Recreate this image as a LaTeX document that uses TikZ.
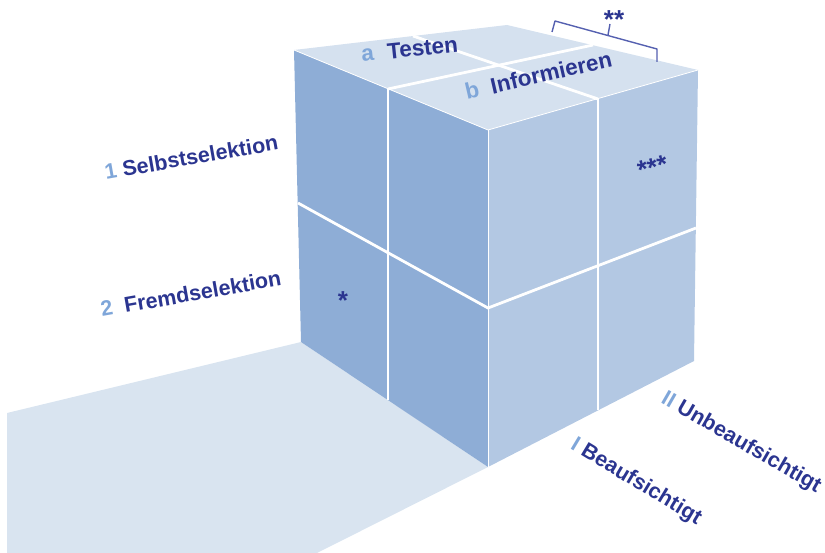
\documentclass[tikz,border=0pt]{standalone}
\usepackage{fontspec}
\setmainfont{Liberation Sans}
\definecolor{leftface}{HTML}{8EADD6}
\definecolor{rightface}{HTML}{B3C8E3}
\definecolor{topface}{HTML}{D5E1EF}
\definecolor{floorc}{HTML}{D9E4F0}
\definecolor{navy}{HTML}{2B3590}
\definecolor{lightnum}{HTML}{7FA6D9}
\definecolor{bracketc}{HTML}{5560B0}
\tikzset{
  face/.style={draw=none},
  divider/.style={draw=white, line width=2.8pt},
  edgeline/.style={draw=white, line width=0.8pt},
  lbl/.style={text=navy, font=\fontsize{21.5}{24}\selectfont\bfseries, inner sep=0pt},
  toplbl/.style={text=navy, font=\fontsize{22.5}{24}\selectfont\bfseries, inner sep=0pt},
  star/.style={text=navy, font=\fontsize{26}{28}\selectfont\bfseries, inner sep=0pt},
}
\begin{document}
\begin{tikzpicture}[x=1pt, y=-1pt]
\useasboundingbox (0,0) rectangle (825,553);
% corner coordinates
\coordinate (TL) at (294,50);
\coordinate (TB) at (507,25);
\coordinate (TR) at (698,70);
\coordinate (TF) at (488,130);
\coordinate (BL) at (301,342);
\coordinate (BF) at (488,467);
\coordinate (BR) at (694,361);
% floor
\fill[floorc] (BL) -- (7,413) -- (7,553) -- (317,553) -- (BF) -- cycle;
% faces
\fill[leftface] (TL) -- (TF) -- (BF) -- (BL) -- cycle;
\fill[rightface] (TF) -- (TR) -- (BR) -- (BF) -- cycle;
\fill[topface] (TL) -- (TB) -- (TR) -- (TF) -- cycle;
% edges
\draw[edgeline] (TF) -- (BF);
\draw[edgeline] (TL) -- (TF) -- (TR);
% dividers
\coordinate (lv1) at (388,89);
\coordinate (lv2) at (388,400);
\coordinate (lh1) at (298,203);
\coordinate (fh) at (488,308);
\coordinate (rv1) at (598,99);
\coordinate (rv2) at (598,410);
\coordinate (rh2) at (696,228);
\coordinate (ta2) at (593,45);
\coordinate (tb1) at (413,36);
\draw[divider] (lv1) -- (lv2);
\draw[divider] (lh1) -- (fh) -- (rh2);
\draw[divider] (rv1) -- (rv2);
\draw[divider] (lv1) -- (ta2);
\draw[divider] (tb1) -- (rv1);
% bracket
\coordinate (br1) at (552,32);
\coordinate (br2) at (555,21);
\coordinate (br3) at (657,49);
\coordinate (br4) at (657,62);
\coordinate (brm) at (608,35);
\coordinate (brt) at (610,24);
\draw[bracketc, line width=1.4pt, line join=round] (br1) -- (br2) -- (br3) -- (br4);
\draw[bracketc, line width=1.4pt] (brm) -- (brt);
% labels
\node[lbl, anchor=base west, rotate=10] (sel) at (106,180) {{\color{lightnum}1} Selbstselektion};
\node[lbl, anchor=base west, rotate=10] (frm) at (102,317) {{\color{lightnum}2}\hspace{0.55em}Fremdselektion};
\node[toplbl, anchor=base west, rotate=6] (tst) at (362,62) {{\color{lightnum}a}\hspace{0.6em}Testen};
\node[toplbl, anchor=base west, rotate=13] (inf) at (467,100) {{\color{lightnum}b}\hspace{0.55em}Informieren};
\node[lbl, anchor=center, rotate=-31] (bea) at (636,482) {{\color{lightnum}I} Beaufsichtigt};
\node[lbl, anchor=center, rotate=-30] (unb) at (741,443) {{\color{lightnum}II} Unbeaufsichtigt};
% stars
\node[star, anchor=base] (s1) at (343,310) {*};
\node[star, anchor=base] (s2) at (614,29) {**};
\node[star, anchor=base, rotate=15] (s3) at (655,176) {***};
\end{tikzpicture}
\end{document}
